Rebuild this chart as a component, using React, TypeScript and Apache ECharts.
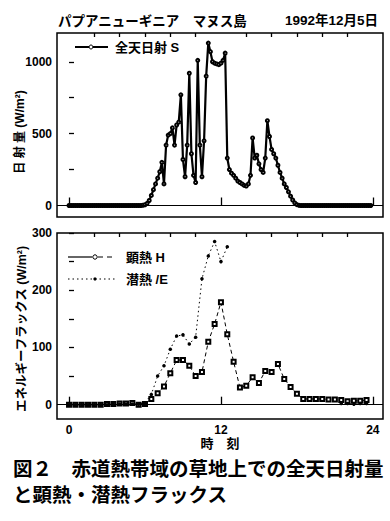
import React, { useEffect, useRef } from 'react';
import * as echarts from 'echarts';

const FONT = '"Liberation Sans", "Noto Sans CJK JP", sans-serif';

const TITLE_LEFT = 'パプアニューギニア　マヌス島';
const TITLE_RIGHT = '1992年12月5日';
const CAPTION_1 = '図２　赤道熱帯域の草地上での全天日射量';
const CAPTION_2 = 'と顕熱・潜熱フラックス';
const S_NAME = '全天日射 S';
const H_NAME = '顕熱 H';
const LE_NAME = '潜熱 /E';
const Y1_NAME = '日 射 量 (W/m²)';
const Y2_NAME = 'エネルギーフラックス (W/m²)';
const X_NAME = '時　刻';

// Global solar radiation S, every 10 minutes from 0:00 (W/m2); one row per hour
const S_STEP_H = 1 / 6;
const S_VALUES = [
  0, 0, 0, 0, 0, 0, // 0
  0, 0, 0, 0, 0, 0, // 1
  0, 0, 0, 0, 0, 0, // 2
  0, 0, 0, 0, 0, 0, // 3
  0, 0, 0, 0, 0, 0, // 4
  0, 0, 0, 0, 0, 2, // 5
  5, 15, 35, 70, 110, 150, // 6
  190, 235, 300, 150, 420, 490, // 7
  500, 540, 420, 560, 580, 770, // 8
  320, 200, 420, 920, 360, 210, // 9
  160, 1010, 420, 200, 450, 900, // 10
  1130, 1070, 1000, 990, 985, 980, // 11
  990, 1010, 1060, 330, 250, 225, // 12
  210, 190, 170, 160, 150, 140, // 13
  135, 150, 210, 470, 330, 350, // 14
  290, 250, 230, 330, 590, 480, // 15
  390, 360, 330, 280, 230, 190, // 16
  150, 125, 95, 65, 38, 18, // 17
  6, 1, 0, 0, 0, 0, // 18
  0, 0, 0, 0, 0, 0, // 19
  0, 0, 0, 0, 0, 0, // 20
  0, 0, 0, 0, 0, 0, // 21
  0, 0, 0, 0, 0, 0, // 22
  0, 0, 0, 0, 0, 0, // 23
];

// Sensible (H) and latent (lE) heat flux, every 30 minutes from 0:00 (W/m2)
const FLUX_STEP_H = 0.5;
const H_VALUES = [
  0, 0, 0, 0, 0, 0, 1, 1, 2, 2, 3, 0, // 0-5.5
  1, 10, 20, 32, 55, 78, 78, 68, 50, 57, 110, 141, // 6-11.5
  179, 123, 75, 30, 33, 48, 38, 59, 57, 71, 45, 31, // 12-17.5
  19, 10, 10, 10, 10, 9, 9, 8, 6, 7, 7, 8, // 18-23.5
];
const LE_VALUES: (number | null)[] = [
  0, 0, 0, 0, 0, 0, 0, 1, 1, 1, 1, 1, // 0-5.5
  3, 18, 50, 68, 97, 120, 122, 106, 118, 220, 260, 285, // 6-11.5
  250, 276, null, null, null, null, null, null, null, null, null, null, // 12-17.5
  null, null, null, null, null, null, null, 2, 2, 1, 2, 2, // 18-23.5
];

const X_MIN = -0.95;
const X_MAX = 24.8;
const X_LABELS = [0, 12, 24];
const X_TICKS_MINOR = [2, 4, 6, 8, 10, 14, 16, 18, 20, 22];
const Y1_MIN = -80;
const Y1_MAX = 1200;
const Y1_LABELS = [0, 500, 1000];
const Y1_TICKS = [0, 250, 500, 750, 1000];
const Y2_MIN = -25;
const Y2_MAX = 300;
const Y2_LABELS = [0, 100, 200, 300];
const Y2_TICKS = [0, 50, 100, 150, 200, 250, 300];

const BLACK = '#000';

export default function App() {
  const ref = useRef<HTMLDivElement>(null);
  useEffect(() => {
    if (!ref.current) return;
    const chart = echarts.init(ref.current, undefined, { renderer: 'svg' });

    const sData = S_VALUES.map((v, i) => [i * S_STEP_H, v]);
    const hData = H_VALUES.map((v, i) => [i * FLUX_STEP_H, v]);
    const leData = LE_VALUES.map((v, i) => [i * FLUX_STEP_H, v == null ? '-' : v]);

    const labelStyle = {
      color: BLACK,
      fontFamily: FONT,
      fontWeight: 'bold',
      fontSize: 12,
      formatter: (v: number) => String(v),
    };
    const tick = (vals: number[], len: number) => ({
      show: true,
      inside: true,
      length: len,
      customValues: vals,
      lineStyle: { color: BLACK, width: 1.3 },
    });
    const xAxis = (grid: number, vals: number[], len: number, labels: boolean) => ({
      type: 'value',
      gridIndex: grid,
      min: X_MIN,
      max: X_MAX,
      axisLine: { show: false },
      splitLine: { show: false },
      axisTick: tick(vals, len),
      axisLabel: labels
        ? { show: true, customValues: X_LABELS, margin: 5, ...labelStyle }
        : { show: false },
    });
    const yAxis = (grid: number, min: number, max: number, ticks: number[], labels: number[]) => ({
      type: 'value',
      gridIndex: grid,
      min,
      max,
      axisLine: { show: false },
      splitLine: { show: false },
      axisTick: tick(ticks, 5),
      axisLabel: { show: true, customValues: labels, margin: 5, ...labelStyle },
    });
    const zeroLine = {
      silent: true,
      symbol: 'none',
      label: { show: false },
      lineStyle: { color: BLACK, type: 'solid', width: 1.2 },
      data: [{ yAxis: 0 }],
    };

    const bold = (size: number) => ({ fill: BLACK, font: `bold ${size}px ${FONT}` });
    const line = (x1: number, y1: number, x2: number, y2: number, width: number, dash?: number[]) => ({
      type: 'line',
      shape: { x1, y1, x2, y2 },
      style: { stroke: BLACK, lineWidth: width, lineDash: dash },
    });
    const dot = (cx: number, cy: number, r: number, hollow: boolean) => ({
      type: 'circle',
      shape: { cx, cy, r },
      style: hollow ? { fill: '#fff', stroke: BLACK, lineWidth: 1 } : { fill: BLACK },
    });

    chart.setOption({
      animation: false,
      backgroundColor: '#fff',
      textStyle: { fontFamily: FONT },
      grid: [
        { left: 57, top: 33, width: 326, height: 184, show: true, borderColor: BLACK, borderWidth: 1.5 },
        { left: 57, top: 233, width: 326, height: 186, show: true, borderColor: BLACK, borderWidth: 1.5 },
      ],
      xAxis: [
        xAxis(0, X_LABELS, 8, false),
        xAxis(0, X_TICKS_MINOR, 4, false),
        xAxis(1, X_LABELS, 8, true),
        xAxis(1, X_TICKS_MINOR, 4, false),
      ],
      yAxis: [yAxis(0, Y1_MIN, Y1_MAX, Y1_TICKS, Y1_LABELS), yAxis(1, Y2_MIN, Y2_MAX, Y2_TICKS, Y2_LABELS)],
      series: [
        {
          name: S_NAME,
          type: 'line',
          xAxisIndex: 0,
          yAxisIndex: 0,
          data: sData,
          symbol: 'emptyCircle',
          symbolSize: 3,
          showAllSymbol: true,
          lineStyle: { color: BLACK, width: 2.2 },
          itemStyle: { color: BLACK, borderColor: BLACK, borderWidth: 1.2 },
          markLine: zeroLine,
        },
        {
          name: H_NAME,
          type: 'line',
          xAxisIndex: 2,
          yAxisIndex: 1,
          data: hData,
          symbol: 'emptyRect',
          symbolSize: 4,
          showAllSymbol: true,
          lineStyle: { color: BLACK, width: 1, type: [4, 3] },
          itemStyle: { color: BLACK, borderColor: BLACK, borderWidth: 1 },
          markLine: zeroLine,
        },
        {
          name: LE_NAME,
          type: 'line',
          xAxisIndex: 2,
          yAxisIndex: 1,
          data: leData,
          connectNulls: false,
          symbol: 'circle',
          symbolSize: 3.5,
          showAllSymbol: true,
          lineStyle: { color: BLACK, width: 1, type: [1.5, 3] },
          itemStyle: { color: BLACK },
        },
      ],
      graphic: [
        { type: 'text', left: 58, top: 15, style: { text: TITLE_LEFT, ...bold(13.5) } },
        { type: 'text', right: 12, top: 14, style: { text: TITLE_RIGHT, ...bold(13.5) } },
        // legend: global radiation
        line(75, 47, 108, 47, 1.8),
        dot(91, 47, 2, true),
        { type: 'text', x: 115, y: 47, style: { text: S_NAME, verticalAlign: 'middle', ...bold(13) } },
        // legend: sensible heat
        line(68, 257, 92, 257, 1.2),
        dot(95, 257, 2.2, true),
        line(98, 257, 115, 257, 1.2, [5, 4]),
        { type: 'text', x: 126, y: 257, style: { text: H_NAME, verticalAlign: 'middle', ...bold(13) } },
        // legend: latent heat
        line(68, 279, 115, 279, 1.2, [1.5, 3]),
        dot(95, 279, 1.6, false),
        { type: 'text', x: 126, y: 279, style: { text: LE_NAME, verticalAlign: 'middle', ...bold(13) } },
        {
          type: 'text',
          x: 20,
          y: 132,
          rotation: Math.PI / 2,
          style: { text: Y1_NAME, align: 'center', verticalAlign: 'middle', ...bold(12) },
        },
        {
          type: 'text',
          x: 22,
          y: 329,
          rotation: Math.PI / 2,
          style: { text: Y2_NAME, align: 'center', verticalAlign: 'middle', ...bold(12.5) },
        },
        {
          type: 'text',
          x: 220,
          y: 443,
          style: { text: X_NAME, align: 'center', verticalAlign: 'middle', ...bold(13) },
        },
        {
          type: 'text',
          x: 13,
          y: 469,
          style: { text: CAPTION_1, verticalAlign: 'middle', ...bold(19.5) },
        },
        {
          type: 'text',
          x: 13,
          y: 495,
          style: { text: CAPTION_2, verticalAlign: 'middle', ...bold(19.5) },
        },
      ],
    });
    return () => chart.dispose();
  }, []);

  return (
    <div
      ref={ref}
      style={{ position: 'fixed', left: 0, top: 0, width: 390, height: 521, background: '#fff' }}
    />
  );
}
